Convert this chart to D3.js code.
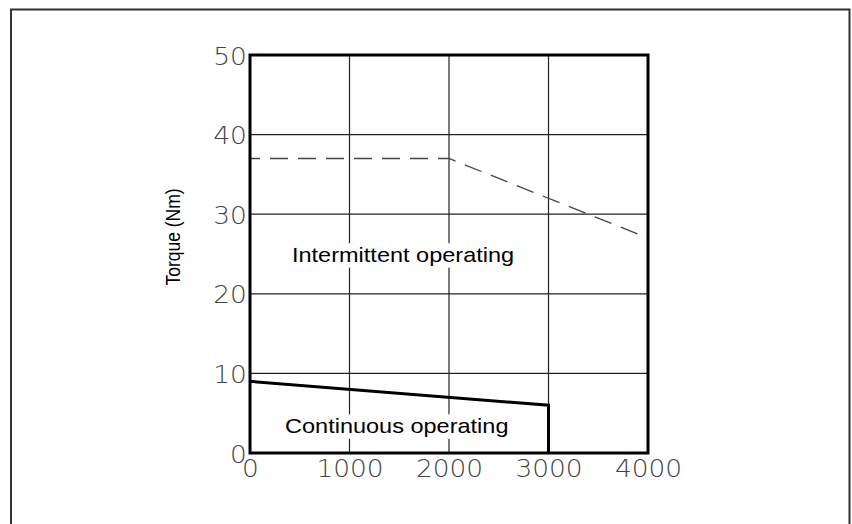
<!DOCTYPE html>
<html><head><meta charset="utf-8">
<script src="https://cdn.jsdelivr.net/npm/d3@7"></script>
<style>body{margin:0;background:#fff}svg{display:block}</style>
</head><body>
<script>
const xTicks = [0, 1000, 2000, 3000, 4000];
const yTicks = [0, 10, 20, 30, 40, 50];
const continuous = [{speed: 0, torque: 9}, {speed: 3000, torque: 6}, {speed: 3000, torque: 0}];
const intermittent = [{speed: 0, torque: 37}, {speed: 2000, torque: 37}, {speed: 4000, torque: 27}];
const regionNames = ["Intermittent operating", "Continuous operating"];
const yTitle = "Torque (Nm)";

// label anchors in data units (speed, torque)
const regionAnchors = [[422, 24.0], [352, 2.5]];

const W = 852, H = 524;
const svg = d3.select("body").append("svg").attr("width", W).attr("height", H);
svg.append("rect").attr("width", W).attr("height", H).attr("fill", "#fff");

// outer border (open at bottom)
svg.append("path").attr("d", "M11,530V9.5H849.5V530").attr("fill", "none")
  .attr("stroke", "#333").attr("stroke-width", 2);

const x = d3.scaleLinear().domain([0, 4000]).range([250, 648]);
const y = d3.scaleLinear().domain([0, 50]).range([453, 55]);

// grid
const g = svg.append("g");
g.selectAll("line.v").data(xTicks).join("line")
  .attr("x1", d => x(d)).attr("x2", d => x(d)).attr("y1", y(0)).attr("y2", y(50))
  .attr("stroke", "#222").attr("stroke-width", 1.2);
g.selectAll("line.h").data(yTicks).join("line")
  .attr("x1", x(0)).attr("x2", x(4000)).attr("y1", d => y(d)).attr("y2", d => y(d))
  .attr("stroke", "#222").attr("stroke-width", 1.2);

// region labels with white boxes
regionNames.forEach((name, i) => {
  const [sx, ty] = regionAnchors[i];
  const lg = svg.append("g").attr("transform", `translate(${x(sx)},${y(ty)}) scale(1.12,1)`);
  const t = lg.append("text").attr("x", 0).attr("y", 0)
    .attr("font-family", "Liberation Sans, Arial, sans-serif").attr("font-size", 21)
    .attr("fill", "#000").text(name);
  const bb = t.node().getBBox();
  lg.insert("rect", "text").attr("x", bb.x - 2).attr("y", bb.y)
    .attr("width", bb.width + 4).attr("height", bb.height + 1).attr("fill", "#fff");
});

// intermittent dashed line
const line = d3.line().x(d => x(d.speed)).y(d => y(d.torque));
svg.append("path").datum(intermittent).attr("d", line).attr("fill", "none")
  .attr("stroke", "#444").attr("stroke-width", 1.3)
  .attr("stroke-dasharray", "18 10").attr("stroke-dashoffset", 8);

// continuous line
svg.append("path").datum(continuous).attr("d", line).attr("fill", "none")
  .attr("stroke", "#000").attr("stroke-width", 3);

// frame
svg.append("rect").attr("x", x(0)).attr("y", y(50)).attr("width", x(4000) - x(0))
  .attr("height", y(0) - y(50)).attr("fill", "none").attr("stroke", "#000").attr("stroke-width", 3);

// tick labels via d3 axes
const tickFont = "'DejaVu Sans ExtraLight', 'DejaVu Sans', sans-serif";
const xAxis = svg.append("g").attr("transform", `translate(0,${y(0)})`)
  .call(d3.axisBottom(x).tickValues(xTicks).tickSize(0).tickPadding(24).tickFormat(d3.format("d")));
const yAxis = svg.append("g").attr("transform", `translate(${x(0)},0)`)
  .call(d3.axisLeft(y).tickValues(yTicks).tickSize(0).tickPadding(3).tickFormat(d3.format("d")));
[xAxis, yAxis].forEach(a => {
  a.select(".domain").remove();
  a.selectAll("text").attr("font-family", tickFont).attr("font-weight", 200)
    .attr("font-size", 24).attr("fill", "#444").attr("transform", "scale(1.1,1)");
});
xAxis.selectAll("text").attr("dy", "0");
yAxis.selectAll("text").attr("dy", "0.38em");

svg.append("text").attr("transform", "translate(180,237) rotate(-90) scale(1,1.12)")
  .attr("text-anchor", "middle").attr("font-family", "Liberation Sans, Arial, sans-serif")
  .attr("font-size", 17.5).attr("fill", "#000").text(yTitle);
</script>
</body></html>
